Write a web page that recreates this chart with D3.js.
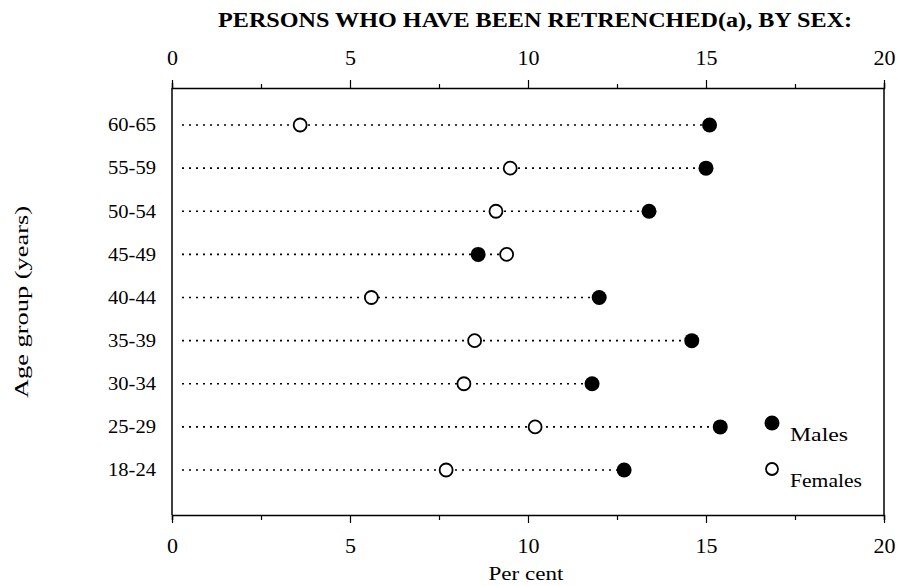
<!DOCTYPE html>
<html>
<head>
<meta charset="utf-8">
<script src="https://cdn.jsdelivr.net/npm/d3@7"></script>
<style>
  body { margin: 0; background: #fff; }
  svg text { font-family: "Liberation Serif", "DejaVu Serif", serif; fill: #000; }
</style>
</head>
<body>
<svg id="chart" width="899" height="586"></svg>
<script>
// Age groups, top to bottom
var ageGroups = ['60-65', '55-59', '50-54', '45-49', '40-44', '35-39', '30-34', '25-29', '18-24'];

// Per cent retrenched
var males   = [15.1, 15.0, 13.4, 8.6, 12.0, 14.6, 11.8, 15.4, 12.7];
var females = [3.6, 9.5, 9.1, 9.4, 5.6, 8.5, 8.2, 10.2, 7.7];

var xTicks = [0, 5, 10, 15, 20];
var xMinorTicks = [0, 2.5, 5, 7.5, 10, 12.5, 15, 17.5, 20];

var svg = d3.select('#chart');

var x = d3.scaleLinear().domain([0, 20]).range([172, 884]);
var y = d3.scalePoint().domain(ageGroups).range([125, 470]);
var plotTop = 88, plotBottom = 515;

// Title
svg.append('text')
  .attr('x', 535).attr('y', 27)
  .attr('text-anchor', 'middle')
  .attr('textLength', 634).attr('lengthAdjust', 'spacingAndGlyphs')
  .style('font-size', '20px').style('font-weight', 'bold')
  .text('PERSONS WHO HAVE BEEN RETRENCHED(a), BY SEX:');

// Frame lines left and right
svg.append('line').attr('x1', x(0)).attr('x2', x(0)).attr('y1', plotTop).attr('y2', plotBottom)
  .attr('stroke', '#000').attr('stroke-width', 1.5);
svg.append('line').attr('x1', x(20)).attr('x2', x(20)).attr('y1', plotTop).attr('y2', plotBottom)
  .attr('stroke', '#000').attr('stroke-width', 1.5);

var fmt = function(d) { return xTicks.indexOf(d) >= 0 ? d : ''; };

// Top axis
var gTop = svg.append('g').attr('transform', 'translate(0,' + plotTop + ')')
  .call(d3.axisTop(x).tickValues(xMinorTicks).tickFormat(fmt).tickSize(5).tickPadding(18));

// Bottom axis
var gBot = svg.append('g').attr('transform', 'translate(0,' + plotBottom + ')')
  .call(d3.axisBottom(x).tickValues(xMinorTicks).tickFormat(fmt).tickSize(5).tickPadding(17));

[gTop, gBot].forEach(function(g) {
  g.select('.domain').attr('stroke-width', 1.5);
  g.selectAll('.tick line').attr('stroke-width', 1.2);
  g.selectAll('.tick text').attr('font-size', 22).attr('font-family', '"Liberation Serif", serif');
});
gTop.selectAll('.tick line').attr('y2', function(d) { return xTicks.indexOf(d) >= 0 ? -8 : -4; });
gBot.selectAll('.tick line').attr('y2', function(d) { return xTicks.indexOf(d) >= 0 ? 8 : 5; });

// Left category labels
svg.append('g').selectAll('text')
  .data(ageGroups)
  .enter()
  .append('text')
  .attr('x', 156)
  .attr('y', function(d) { return y(d); })
  .attr('dy', '0.35em')
  .attr('text-anchor', 'end')
  .attr('textLength', 48).attr('lengthAdjust', 'spacingAndGlyphs')
  .style('font-size', '18px')
  .text(function(d) { return d; });

// Axis titles
svg.append('text')
  .attr('transform', 'translate(28,302) rotate(-90)')
  .attr('text-anchor', 'middle')
  .attr('textLength', 192).attr('lengthAdjust', 'spacingAndGlyphs')
  .style('font-size', '18px')
  .text('Age group (years)');

svg.append('text')
  .attr('x', 526).attr('y', 580)
  .attr('text-anchor', 'middle')
  .attr('textLength', 75).attr('lengthAdjust', 'spacingAndGlyphs')
  .style('font-size', '18px')
  .text('Per cent');

// Rows
var rows = ageGroups.map(function(g, i) {
  return {group: g, male: males[i], female: females[i]};
});

// Dotted guide lines from the axis to the right-most dot
svg.append('g').selectAll('line')
  .data(rows)
  .enter()
  .append('line')
  .attr('x1', x(0) + 10)
  .attr('x2', function(d) { return x(Math.max(d.male, d.female)); })
  .attr('y1', function(d) { return y(d.group); })
  .attr('y2', function(d) { return y(d.group); })
  .attr('stroke', '#000')
  .attr('stroke-width', 1.6)
  .attr('stroke-dasharray', '2,5');

// Females (open)
svg.append('g').selectAll('circle')
  .data(rows)
  .enter()
  .append('circle')
  .attr('cx', function(d) { return x(d.female); })
  .attr('cy', function(d) { return y(d.group); })
  .attr('r', 6.5)
  .attr('fill', '#fff')
  .attr('stroke', '#000')
  .attr('stroke-width', 1.8);

// Males (filled)
svg.append('g').selectAll('circle')
  .data(rows)
  .enter()
  .append('circle')
  .attr('cx', function(d) { return x(d.male); })
  .attr('cy', function(d) { return y(d.group); })
  .attr('r', 7.5)
  .attr('fill', '#000');

// Legend
var legend = svg.append('g');
legend.append('circle').attr('cx', 772).attr('cy', 423).attr('r', 7.5).attr('fill', '#000');
legend.append('text').attr('x', 790).attr('y', 441)
  .attr('textLength', 58).attr('lengthAdjust', 'spacingAndGlyphs')
  .style('font-size', '18px').text('Males');
legend.append('circle').attr('cx', 772).attr('cy', 469).attr('r', 6)
  .attr('fill', '#fff').attr('stroke', '#000').attr('stroke-width', 1.8);
legend.append('text').attr('x', 790).attr('y', 487)
  .attr('textLength', 72).attr('lengthAdjust', 'spacingAndGlyphs')
  .style('font-size', '18px').text('Females');
</script>
</body>
</html>
